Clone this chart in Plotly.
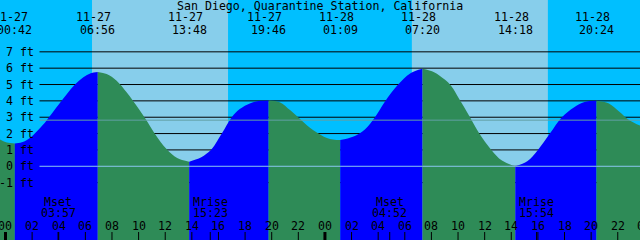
import plotly.graph_objects as go

# ---------------- data (hours from 11-27 00:00, feet) ----------------
title = "San Diego, Quarantine Station, California"

tide_hours = [-0.5, 0.1, 0.7, 1.4, 2.09, 2.8, 3.34, 4.0, 4.6, 5.2, 5.85, 6.4, 6.933,
              7.6, 8.35, 9.1, 9.6, 10.48, 11.23, 12.1, 12.9, 13.8,
              14.6, 15.0, 15.5, 16.25, 17.0, 17.6, 18.4, 19.2, 19.767,
              20.6, 21.4, 22.25, 23.1, 24.2, 25.15,
              26.1, 27.0, 27.76, 28.5, 29.5, 30.4, 31.333,
              32.2, 33.0, 33.5, 34.1, 34.9, 35.6, 36.5, 37.3, 38.3,
              39.2, 40.0, 40.9, 41.8, 42.7, 43.5, 44.4,
              45.3, 46.1, 46.9, 47.8]
tide_ft = [1.68, 1.45, 1.39, 1.52, 1.92, 2.52, 3.08, 3.78, 4.4, 4.98, 5.45, 5.69, 5.77,
           5.64, 5.23, 4.52, 3.98, 2.95, 1.98, 1.05, 0.5, 0.28,
           0.5, 0.7, 1.05, 2.0, 3.0, 3.5, 3.86, 4.0, 4.03,
           3.92, 3.42, 2.8, 2.22, 1.72, 1.6,
           1.8, 2.25, 3.0, 3.95, 5.0, 5.68, 5.96,
           5.75, 5.3, 4.9, 4.1, 3.0, 2.0, 1.0, 0.35, 0.0,
           0.3, 1.0, 2.0, 3.0, 3.6, 3.93, 4.0,
           3.85, 3.35, 2.8, 2.45]

# extremes, labels
extreme_hours = [0.7, 6.933, 13.8, 19.767, 25.15, 31.333, 38.3, 44.4]
extreme_dates = ["11-27", "11-27", "11-27", "11-27", "11-28", "11-28", "11-28", "11-28"]
extreme_times = ["00:42", "06:56", "13:48", "19:46", "01:09", "07:20", "14:18", "20:24"]

# daylight (sunrise, sunset) pairs
day_spans = [(6.5, 16.72), (30.53, 40.75)]

# moon events
moon_hours = [3.95, 15.383, 28.867, 39.9]
moon_names = ["Mset", "Mrise", "Mset", "Mrise"]
moon_times = ["03:57", "15:23", "04:52", "15:54"]

# axis ticks
hour_ticks = [0, 2, 4, 6, 8, 10, 12, 14, 16, 18, 20, 22, 24, 26, 28, 30, 32, 34, 36, 38, 40, 42, 44, 46, 48]
hour_labels = ["00", "02", "04", "06", "08", "10", "12", "14", "16", "18", "20", "22",
               "00", "02", "04", "06", "08", "10", "12", "14", "16", "18", "20", "22", "00"]
midnights = [0, 24]

ft_levels = [7, 6, 5, 4, 3, 2, 1, 0, -1]
ft_labels = ["7 ft", "6 ft", "5 ft", "4 ft", "3 ft", "2 ft", "1 ft", "0 ft", "-1 ft"]
msl_ft = 2.82

# ---------------- styling ----------------
NIGHT = "#00BFFF"
DAY = "#87CEEB"
RISE = "#0000FF"
FALL = "#2E8B57"
FONT = dict(family="DejaVu Sans Mono", size=11.6, color="black")
X_LO, X_HI = -0.4132, 47.671
Y_LO, Y_HI = -4.51, 10.17
BASE = -6


def xp(h):
    return (h - X_LO) / (X_HI - X_LO)


fig = go.Figure()

# split curve at extremes into rising / falling segments
ext_idx = [tide_hours.index(h) for h in extreme_hours]
bounds = [0] + ext_idx + [len(tide_hours) - 1]
for a, b in zip(bounds[:-1], bounds[1:]):
    if b <= a:
        continue
    xs = tide_hours[a:b + 1]
    ys = tide_ft[a:b + 1]
    color = RISE if ys[-1] > ys[0] else FALL
    fig.add_trace(go.Scatter(x=[xs[0], xs[-1]], y=[BASE, BASE], mode="lines",
                             line=dict(width=0), hoverinfo="skip"))
    fig.add_trace(go.Scatter(x=xs, y=ys, mode="lines",
                             line=dict(width=0, shape="spline", color=color),
                             fill="tonexty", fillcolor=color, hoverinfo="skip"))

shapes = []
for s, e in day_spans:
    shapes.append(dict(type="rect", xref="x", yref="paper", x0=s, x1=e, y0=0, y1=1,
                       fillcolor=DAY, line=dict(width=0), layer="below"))
line_x0 = 39.5 / 640
for lv in ft_levels:
    shapes.append(dict(type="line", xref="paper", yref="y", x0=line_x0, x1=1, y0=lv, y1=lv,
                       line=dict(color="black", width=1), layer="below"))
# datum and mean sea level on top
shapes.append(dict(type="line", xref="paper", yref="y", x0=line_x0, x1=1, y0=0, y1=0,
                   line=dict(color="#8cc8f0", width=1), layer="above"))
shapes.append(dict(type="line", xref="paper", yref="y", x0=line_x0, x1=1, y0=msl_ft, y1=msl_ft,
                   line=dict(color="#62a0a4", width=1), layer="above"))
# hour ticks
tick_h = 8 / 240
for h in hour_ticks:
    w = 3 if h in midnights else 1
    shapes.append(dict(type="line", xref="x", yref="paper", x0=h, x1=h, y0=0, y1=tick_h,
                       line=dict(color="black", width=w), layer="above"))
for h in moon_hours:
    shapes.append(dict(type="line", xref="x", yref="paper", x0=h, x1=h, y0=0, y1=tick_h,
                       line=dict(color="black", width=1), layer="above"))


def py(p):
    return 1 - p / 240


ann = []
ann.append(dict(text=title, x=0.5, xref="paper", y=py(6), yref="paper", showarrow=False,
                xanchor="center", yanchor="middle", font=FONT))
for h, d, t in zip(extreme_hours, extreme_dates, extreme_times):
    ann.append(dict(text=d, x=xp(h), xref="paper", y=py(17), yref="paper", xshift=-4, showarrow=False,
                    xanchor="center", yanchor="middle", font=FONT))
    ann.append(dict(text=t, x=xp(h), xref="paper", y=py(29.5), yref="paper", showarrow=False,
                    xanchor="center", yanchor="middle", font=FONT))
for lv, lab in zip(ft_levels, ft_labels):
    ann.append(dict(text=lab, x=35.5 / 640, xref="paper", y=lv, yref="y", showarrow=False,
                    xanchor="right", yanchor="middle", font=FONT))
for h, lab in zip(hour_ticks, hour_labels):
    ann.append(dict(text=lab, x=xp(h), xref="paper", y=py(226), yref="paper", showarrow=False,
                    xanchor="center", yanchor="middle", font=FONT))
for h, n, t in zip(moon_hours, moon_names, moon_times):
    ann.append(dict(text=n, x=xp(h), xref="paper", y=py(201.5), yref="paper", showarrow=False,
                    xanchor="center", yanchor="middle", font=FONT))
    ann.append(dict(text=t, x=xp(h), xref="paper", y=py(213), yref="paper", showarrow=False,
                    xanchor="center", yanchor="middle", font=FONT))

fig.update_layout(
    width=640, height=240, margin=dict(l=0, r=0, t=0, b=0),
    plot_bgcolor=NIGHT, paper_bgcolor=NIGHT, showlegend=False,
    xaxis=dict(range=[X_LO, X_HI], visible=False, fixedrange=True),
    yaxis=dict(range=[Y_LO, Y_HI], visible=False, fixedrange=True),
    shapes=shapes, annotations=ann,
)
fig.write_html("out.html", config={"displayModeBar": False})
